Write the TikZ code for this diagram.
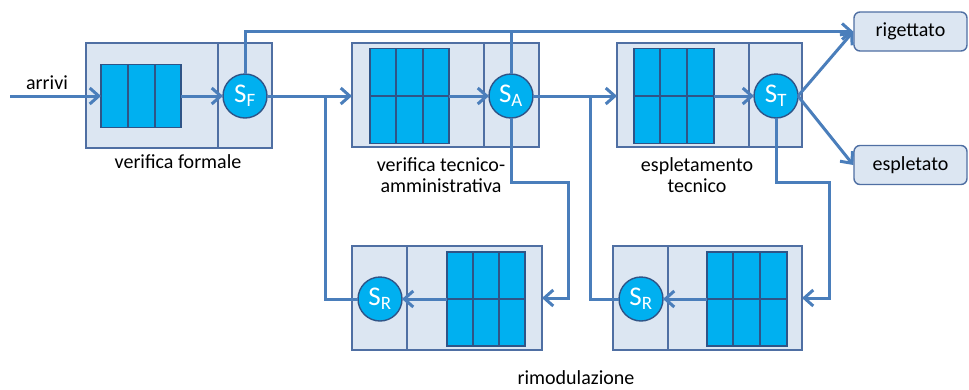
\documentclass[tikz,border=0pt]{standalone}
\usepackage{fontspec}
\setmainfont{Carlito}
\usetikzlibrary{arrows.meta}
\definecolor{boxfill}{HTML}{DCE6F2}
\definecolor{boxline}{HTML}{4F6FA3}
\definecolor{flowc}{HTML}{4A7EBB}
\definecolor{cellfill}{HTML}{00B0F0}
\definecolor{cellline}{HTML}{2F5487}
\begin{document}
\begin{tikzpicture}[x=1pt,y=-1pt,
  stage/.style={draw=boxline, fill=boxfill, line width=1.4pt, inner sep=0pt, outer sep=0pt, anchor=north west},
  cell/.style={draw=cellline, fill=cellfill, line width=1.4pt, inner sep=0pt, outer sep=0pt, anchor=north west},
  grid/.style={draw=cellline, line width=1.4pt},
  divider/.style={draw=boxline, line width=1.4pt},
  srv/.style={circle, draw=cellline, fill=cellfill, line width=1.4pt, minimum size=44pt, inner sep=0pt, outer sep=0pt, text=white, font=\fontsize{27}{27}\selectfont},
  outbox/.style={draw=boxline, fill=boxfill, line width=1.4pt, rounded corners=6pt, minimum width=113pt, minimum height=39pt, inner sep=0pt, font=\fontsize{20}{24}\selectfont},
  path/.style={draw=flowc, line width=3pt},
  flow/.style={path, -{Straight Barb[length=9pt,width=16pt]}},
  lbl/.style={font=\fontsize{20}{21}\selectfont, align=center, text=black}
]
\useasboundingbox (0,0) rectangle (969,389);

% stage boxes
\node[stage, minimum width=186pt, minimum height=105pt] (b1) at (86,43) {};
\node[stage, minimum width=187pt, minimum height=104pt] (b2) at (352,43) {};
\node[stage, minimum width=185pt, minimum height=104pt] (b3) at (617,43) {};
\node[stage, minimum width=190pt, minimum height=104pt] (b4) at (352,246) {};
\node[stage, minimum width=189pt, minimum height=104pt] (b5) at (613,246) {};
\draw[divider] (218,43) -- (218,148);
\draw[divider] (484,43) -- (484,147);
\draw[divider] (749,43) -- (749,147);
\draw[divider] (407,246) -- (407,350);
\draw[divider] (668,246) -- (668,350);

% queues
\node[cell, minimum width=80pt, minimum height=63pt] (q1) at (101,64.5) {};
\draw[grid] (128,64.5) -- (128,127.5) (155,64.5) -- (155,127.5);
\node[cell, minimum width=79pt, minimum height=95pt] (q2) at (370,48.5) {};
\draw[grid] (396,48.5) -- (396,143.5) (423,48.5) -- (423,143.5) (370,96) -- (449,96);
\node[cell, minimum width=80pt, minimum height=95pt] (q3) at (634,48.5) {};
\draw[grid] (660,48.5) -- (660,143.5) (687,48.5) -- (687,143.5) (634,96) -- (714,96);
\node[cell, minimum width=78pt, minimum height=94pt] (q4) at (447,252) {};
\draw[grid] (473,252) -- (473,346) (499,252) -- (499,346) (447,299) -- (525,299);
\node[cell, minimum width=80pt, minimum height=94pt] (q5) at (707,252) {};
\draw[grid] (733,252) -- (733,346) (760,252) -- (760,346) (707,299) -- (787,299);

% servers
\node[srv] (sf) at (245,96) {S\textsubscript{F}};
\node[srv] (sa) at (511,96) {S\textsubscript{A}};
\node[srv] (st) at (776,96) {S\textsubscript{T}};
\node[srv] (sr1) at (380,299) {S\textsubscript{R}};
\node[srv] (sr2) at (641,299) {S\textsubscript{R}};

% outcomes
\node[outbox] (rig) at (910.5,31.5) {rigettato};
\node[outbox] (esp) at (910.5,165) {espletato};

% routing points
\coordinate (in) at (10,96);
\coordinate (m1) at (325,96);
\coordinate (m2) at (590,96);
\coordinate (ja) at (568,182);
\coordinate (jt) at (829,182);

% connectors
\draw[flow] (in) -- (q1.west);
\draw[flow] (q1.east) -- (sf.west);
\draw[flow] (sf.east) -- (sf.east -| b2.west);
\draw[flow] (q2.east |- sa.west) -- (sa.west);
\draw[flow] (sa.east) -- (sa.east -| b3.west);
\draw[flow] (q3.east |- st.west) -- (st.west);
\draw[flow] (sf.north) |- (rig.west);
\draw[path] (sa.north) -- (sa.north |- rig.west);
\draw[flow] (st.east) -- (rig.west);
\draw[flow] (st.east) -- (esp.west);
\draw[flow] (sa.south) |- (ja) |- (b4.east);
\draw[flow] (st.south) |- (jt) |- (b5.east);
\draw[flow] (q4.west |- sr1.east) -- (sr1.east);
\draw[flow] (q5.west |- sr2.east) -- (sr2.east);
\draw[path] (sr1.west) -| (m1);
\draw[path] (sr2.west) -| (m2);

% labels
\node[lbl] (tin) at (47,83) {arrivi};
\node[lbl] (t1) at (178,162) {verifica formale};
\node[lbl] (t2) at (441,175) {verifica tecnico-\\amministrativa};
\node[lbl] (t3) at (697,175) {espletamento\\tecnico};
\node[lbl] (t4) at (576,378) {rimodulazione};
\end{tikzpicture}
\end{document}
